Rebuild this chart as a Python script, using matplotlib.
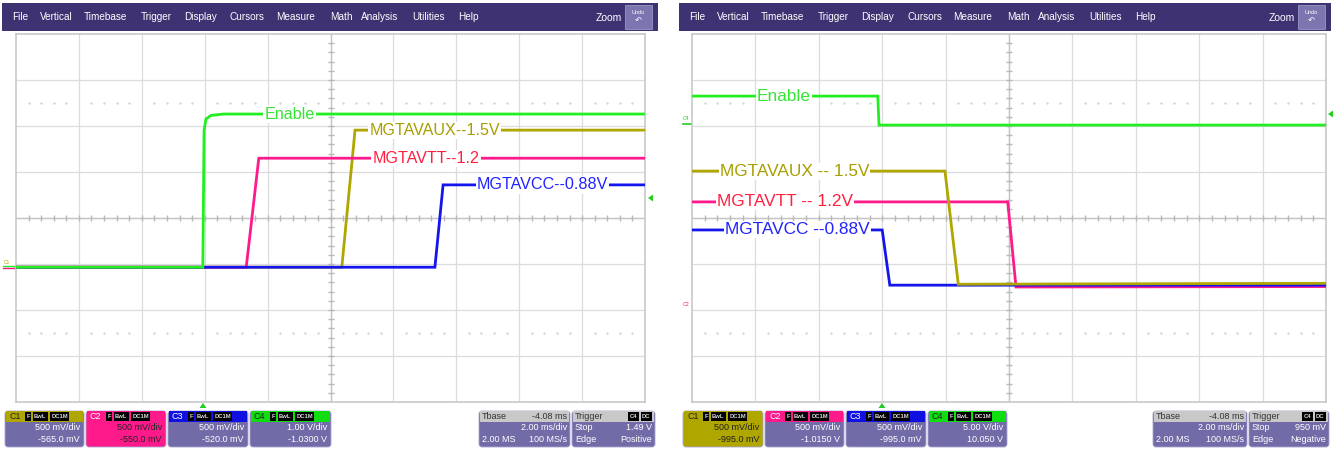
import matplotlib
matplotlib.use("Agg")
import matplotlib.pyplot as plt
import numpy as np
from matplotlib.patches import FancyBboxPatch, Rectangle, Polygon

plt.rcParams['font.family'] = ['Liberation Sans', 'DejaVu Sans']

W, H = 1334, 451
# ---------------- data (divisions: x 0..10, y -4..4) ----------------
# Left panel: power-up sequence
L_enable_t = [0, 2.97, 2.99, 3.02, 3.10, 3.30, 10]
L_enable_v = [-1.07, -1.07, 1.90, 2.15, 2.23, 2.26, 2.26]
L_vtt_t = [0, 3.66, 3.86, 10]
L_vtt_v = [-1.07, -1.07, 1.30, 1.30]
L_aux_t = [0, 5.18, 5.39, 10]
L_aux_v = [-1.07, -1.07, 1.91, 1.91]
L_vcc_t = [0, 6.66, 6.79, 10]
L_vcc_v = [-1.07, -1.07, 0.72, 0.72]

# Right panel: power-down sequence
R_enable_t = [0, 2.93, 2.95, 10]
R_enable_v = [2.65, 2.65, 2.02, 2.02]
R_aux_t = [0, 3.99, 4.20, 10]
R_aux_v = [1.02, 1.02, -1.44, -1.42]
R_vtt_t = [0, 4.98, 5.11, 10]
R_vtt_v = [0.35, 0.35, -1.50, -1.49]
R_vcc_t = [0, 3.00, 3.12, 10]
R_vcc_v = [-0.26, -0.26, -1.46, -1.46]

labels_left = ["Enable", "MGTAVAUX--1.5V", "MGTAVTT--1.2", "MGTAVCC--0.88V"]
labels_right = ["Enable", "MGTAVAUX -- 1.5V", "MGTAVTT -- 1.2V", "MGTAVCC --0.88V"]
label_pos_left = [(4.35, 2.26), (6.66, 1.91), (6.52, 1.30), (8.37, 0.72)]
label_pos_right = [(1.45, 2.65), (1.62, 1.02), (1.47, 0.35), (1.66, -0.26)]

menu_items = ["File", "Vertical", "Timebase", "Trigger", "Display", "Cursors",
              "Measure", "Math", "Analysis", "Utilities", "Help"]
menu_x_offsets = [10, 38, 82, 139, 182, 228, 274, 328, 359, 410, 456]

left_ch_info = [("C1", "500 mV/div", "-565.0 mV"), ("C2", "500 mV/div", "-550.0 mV"),
                ("C3", "500 mV/div", "-520.0 mV"), ("C4", "1.00 V/div", "-1.0300 V")]
right_ch_info = [("C1", "500 mV/div", "-995.0 mV"), ("C2", "500 mV/div", "-1.0150 V"),
                 ("C3", "500 mV/div", "-995.0 mV"), ("C4", "5.00 V/div", "10.050 V")]
left_tbase = ("-4.08 ms", "2.00 ms/div", "2.00 MS", "100 MS/s")
right_tbase = ("-4.08 ms", "2.00 ms/div", "2.00 MS", "100 MS/s")
left_trig = ("1.49 V", "Positive")
right_trig = ("950 mV", "Negative")

# ---------------- styling ----------------
GREEN = "#22ee22"
OLIVE = "#b0a600"
PINK = "#ff1a8c"
BLUE = "#1414ee"
LBL_COLORS = ["#33e633", "#a89e00", "#ff2040", "#2222ff"]
MENU = "#3e3272"
BOXBODY = "#716ca8"
CH_HEAD = [OLIVE, PINK, "#1010e0", "#10dd10"]

fig = plt.figure(figsize=(W / 100, H / 100), dpi=100)
bg = fig.add_axes([0, 0, 1, 1], zorder=0)
bg.set_xlim(0, W)
bg.set_ylim(H, 0)
bg.axis("off")


def px_axes(x0, x1, y0, y1):
    return fig.add_axes([x0 / W, (H - y1) / H, (x1 - x0) / W, (y1 - y0) / H], zorder=2)


def draw_grid(ax):
    ax.set_xlim(0, 10)
    ax.set_ylim(-4, 4)
    ax.set_xticks([])
    ax.set_yticks([])
    for s in ax.spines.values():
        s.set_color("#c8c8c8")
        s.set_linewidth(1.2)
    for i in range(1, 10):
        ax.axvline(i, color="#dcdcdc", lw=0.9, zorder=0)
    for j in range(-3, 4):
        ax.axhline(j, color="#dcdcdc", lw=0.9, zorder=0)
    ax.axvline(5, color="#c4c4c4", lw=1.0, zorder=0)
    ax.axhline(0, color="#c4c4c4", lw=1.0, zorder=0)
    xt = np.arange(0.2, 10, 0.2)
    yt = np.arange(-3.8, 4, 0.2)
    ax.plot(xt, np.zeros_like(xt), ls="none", marker="|", ms=4, color="#b8b8b8", zorder=0)
    ax.plot(np.full_like(yt, 5), yt, ls="none", marker="_", ms=4, color="#b8b8b8", zorder=0)
    for yy in (2.5, -2.5):
        xd = np.array([v for v in np.arange(0.2, 10, 0.2) if abs(v - round(v)) > 0.05])
        ax.plot(xd, np.full_like(xd, yy), ls="none", marker=".", ms=1.3, color="#d0d0d0", zorder=0)


def draw_traces(ax, traces, labels, lpos, fs):
    for (t, v, c) in traces:
        ax.plot(t, v, color=c, lw=2.0, zorder=3, solid_joinstyle="miter")
    for lab, (x, y), c in zip(labels, lpos, LBL_COLORS):
        ax.text(x, y, lab, color=c, fontsize=fs, ha="center", va="center", zorder=5,
                bbox=dict(facecolor="white", edgecolor="none", pad=0.8))


# ---------- left ----------
axL = px_axes(16, 645, 34, 402)
draw_grid(axL)
draw_traces(axL, [(L_aux_t, L_aux_v, OLIVE), (L_vtt_t, L_vtt_v, PINK),
                  (L_vcc_t, L_vcc_v, BLUE), (L_enable_t, L_enable_v, GREEN)],
            labels_left, label_pos_left, 11.6)

# ---------- right ----------
axR = px_axes(692, 1326, 34, 402)
draw_grid(axR)
draw_traces(axR, [(R_vtt_t, R_vtt_v, PINK), (R_vcc_t, R_vcc_v, BLUE),
                  (R_aux_t, R_aux_v, OLIVE), (R_enable_t, R_enable_v, GREEN)],
            labels_right, label_pos_right, 12.4)


def menubar(x0, x1):
    bg.add_patch(Rectangle((x0, 3), x1 - x0, 28, facecolor=MENU, edgecolor="none"))
    for name, off in zip(menu_items, menu_x_offsets):
        bg.text(x0 + off, 17, name, color="white", fontsize=7.2, va="center", ha="left")
    bg.text(x1 - 36, 18, "Zoom", color="white", fontsize=7.5, va="center", ha="right")
    bg.add_patch(Rectangle((x1 - 33, 5), 27, 24, facecolor="#7c76b0", edgecolor="#9a96c8", lw=0.6))
    bg.text(x1 - 19.5, 12, "Undo", color="white", fontsize=4, ha="center", va="center")
    bg.text(x1 - 19.5, 21, "\u21b6", color="white", fontsize=6, ha="center", va="center")


menubar(2, 658)
menubar(679, 1331)


def rbox(x0, y0, w, h, fc, ec="#a8a4d0"):
    bg.add_patch(FancyBboxPatch((x0 + 1.5, y0 + 1.5), w - 3, h - 3,
                                boxstyle="round,pad=1.5,rounding_size=3",
                                facecolor=fc, edgecolor=ec, lw=0.6))


def badge(x, y, txt, fc="black", tc="#d8d8d8", w=None):
    ww = w if w else 4.2 * len(txt) + 3
    bg.add_patch(Rectangle((x, y - 4.5), ww, 9, facecolor=fc, edgecolor="none"))
    bg.text(x + ww / 2, y, txt, color=tc, fontsize=4.2, ha="center", va="center", weight="bold")
    return x + ww + 1.5


def channel_boxes(xs, info, full_body):
    for i, ((x0, x1), (ch, l1, l2)) in enumerate(zip(xs, info)):
        body = CH_HEAD[i] if full_body[i] else BOXBODY
        rbox(x0, 411, x1 - x0, 36, body)
        bg.add_patch(Rectangle((x0 + 1, 411), x1 - x0 - 2, 11, facecolor=CH_HEAD[i], edgecolor="none"))
        tc = "#222222" if i in (0, 3) else "white"
        bg.text(x0 + 4, 416.5, ch, color=tc, fontsize=6.5, va="center")
        bx = x0 + 20
        bx = badge(bx, 416.5, "F", w=6)
        bx = badge(bx, 416.5, "BwL")
        badge(bx, 416.5, "DC1M")
        txtc = "#222222" if full_body[i] else "white"
        bg.text(x1 - 4, 428, l1, color=txtc, fontsize=6.5, ha="right", va="center")
        bg.text(x1 - 4, 440, l2, color=txtc, fontsize=6.5, ha="right", va="center")


def tbase_trig(xt, xg, tb, tr):
    x0, x1 = xt
    rbox(x0, 411, x1 - x0, 36, BOXBODY)
    bg.add_patch(Rectangle((x0 + 1, 411), x1 - x0 - 2, 11, facecolor="#c8c8c8", edgecolor="none"))
    bg.text(x0 + 3, 416.5, "Tbase", color="#333333", fontsize=6.5, va="center")
    bg.text(x1 - 3, 416.5, tb[0], color="#333333", fontsize=6.5, va="center", ha="right")
    bg.text(x1 - 3, 428, tb[1], color="white", fontsize=6.5, va="center", ha="right")
    bg.text(x0 + 3, 440, tb[2], color="white", fontsize=6.5, va="center")
    bg.text(x1 - 3, 440, tb[3], color="white", fontsize=6.5, va="center", ha="right")
    g0, g1 = xg
    rbox(g0, 411, g1 - g0, 36, BOXBODY)
    bg.add_patch(Rectangle((g0 + 1, 411), g1 - g0 - 2, 11, facecolor="#c8c8c8", edgecolor="none"))
    bg.text(g0 + 3, 416.5, "Trigger", color="#333333", fontsize=6.5, va="center")
    bx = badge(g1 - 27, 416.5, "C4", w=11)
    badge(bx, 416.5, "DC", w=11)
    bg.text(g0 + 3, 428, "Stop", color="white", fontsize=6.5, va="center")
    bg.text(g1 - 3, 428, tr[0], color="white", fontsize=6.5, va="center", ha="right")
    bg.text(g0 + 3, 440, "Edge", color="white", fontsize=6.5, va="center")
    bg.text(g1 - 3, 440, tr[1], color="white", fontsize=6.5, va="center", ha="right")


channel_boxes([(5, 84), (86, 166), (168, 248), (250, 331)], left_ch_info, [False, True, False, False])
tbase_trig((479, 570), (572, 655), left_tbase, left_trig)
channel_boxes([(683, 763), (765, 844), (846, 926), (928, 1007)], right_ch_info, [True, False, False, False])
tbase_trig((1153, 1247), (1249, 1329), right_tbase, right_trig)

# trigger markers
for (x, y) in [(203, 404), (882, 404)]:
    bg.add_patch(Polygon([[x - 3.5, y + 4], [x + 3.5, y + 4], [x, y - 1]], facecolor="#22cc22", edgecolor="none"))
for (x, y) in [(650, 198), (1330, 114)]:
    bg.add_patch(Polygon([[x + 3, y - 3.5], [x + 3, y + 3.5], [x - 2, y]], facecolor="#22cc22", edgecolor="none"))

# channel ground markers
bg.text(4, 262, "C1", color=OLIVE, fontsize=3.5, va="center")
bg.plot([3, 16], [266, 266], color=GREEN, lw=1)
bg.plot([3, 16], [268, 268], color=PINK, lw=1)
bg.text(683, 119, "C4", color="#22cc22", fontsize=3.8, va="center")
bg.plot([683, 692], [124, 124], color="#22cc22", lw=1.2)
bg.text(683, 305, "C2", color=PINK, fontsize=3.8, va="center")

fig.savefig("out.png", dpi=100)
